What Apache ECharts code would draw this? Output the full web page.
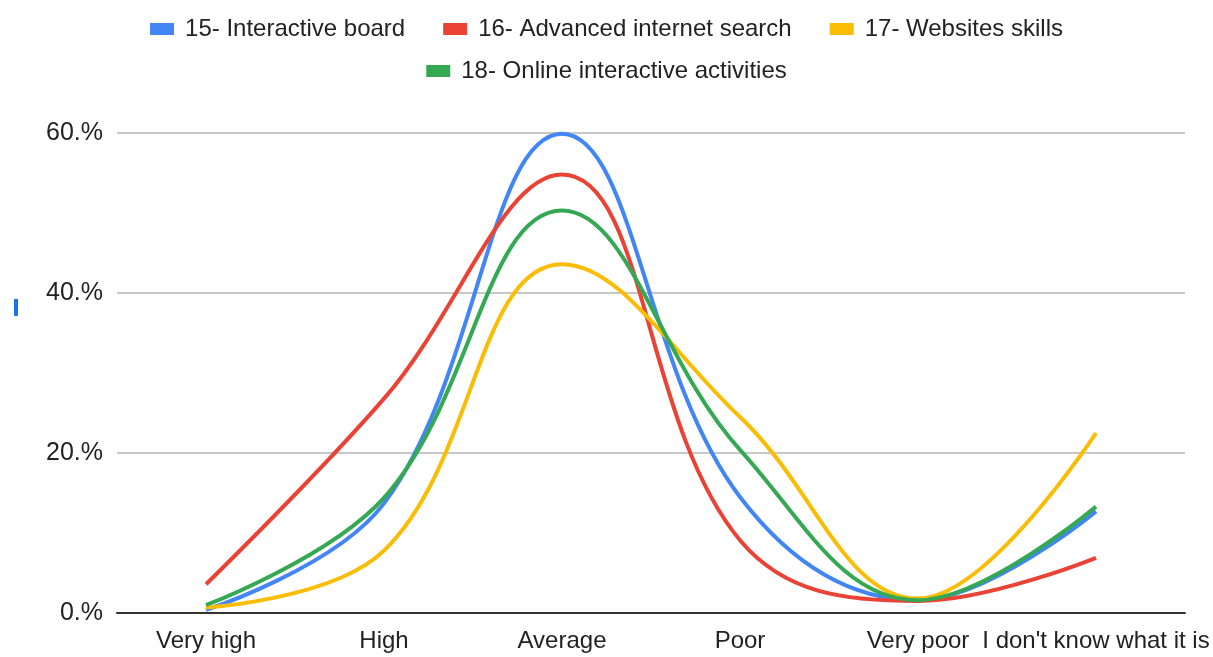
<!DOCTYPE html>
<html>
<head>
<meta charset="utf-8">
<script src="https://cdn.jsdelivr.net/npm/echarts@6/dist/echarts.min.js"></script>
<style>
  html, body { margin: 0; padding: 0; background: #fff; }
  #show { width: 1213px; height: 657px; }
</style>
</head>
<body>
<div id="show"></div>
<script>
var myChart = echarts.init(document.getElementById("show"));

var categories = ["Very high", "High", "Average", "Poor", "Very poor", "I don't know what it is"];
var seriesNames = ["15- Interactive board", "16- Advanced internet search", "17- Websites skills", "18- Online interactive activities"];
var colors = ["#4285F4", "#EA4335", "#FBBC04", "#34A853"];

var interactiveBoard = [0.4, 13.7, 59.9, 14.5, 1.6, 12.7];
var internetSearch = [3.6, 26.8, 54.8, 9.1, 1.5, 6.9];
var websitesSkills = [0.7, 7.8, 43.6, 24.5, 1.8, 22.5];
var onlineActivities = [1.0, 14.4, 50.3, 20.4, 1.6, 13.3];

var values = [interactiveBoard, internetSearch, websitesSkills, onlineActivities];

var font = "'Liberation Sans', Arial, sans-serif";

var legendText = { fontFamily: font, fontSize: 24, color: '#222', padding: [0, 0, 0, 6] };

var series = seriesNames.map(function (name, i) {
    return {
        name: name,
        type: 'line',
        data: values[i],
        smooth: 0.4,
        symbol: 'none',
        color: colors[i],
        lineStyle: { width: 4, color: colors[i] }
    };
});

myChart.setOption(option = {
    animation: false,
    legend: [
        {
            data: seriesNames.slice(0, 3),
            top: 12,
            left: 'center',
            icon: 'rect',
            itemWidth: 24,
            itemHeight: 12,
            itemGap: 38,
            textStyle: legendText
        },
        {
            data: seriesNames.slice(3),
            top: 54,
            left: 'center',
            icon: 'rect',
            itemWidth: 24,
            itemHeight: 12,
            textStyle: legendText
        }
    ],
    grid: {
        left: 117,
        right: 28,
        top: 133,
        bottom: 44,
        outerBoundsMode: 'none'
    },
    xAxis: {
        type: 'category',
        data: categories,
        boundaryGap: true,
        axisTick: { show: false },
        axisLine: { lineStyle: { color: '#333', width: 2 } },
        axisLabel: {
            interval: 0,
            margin: 16,
            fontFamily: font,
            fontSize: 24,
            color: '#222'
        }
    },
    yAxis: {
        type: 'value',
        min: 0,
        max: 60,
        interval: 20,
        axisLine: { show: false },
        axisTick: { show: false },
        splitLine: { lineStyle: { color: '#c8c8c8', width: 2 } },
        axisLabel: {
            margin: 14,
            fontFamily: font,
            fontSize: 25,
            color: '#222',
            formatter: function (v) { return v + '.%'; }
        }
    },
    graphic: [
        {
            type: 'rect',
            left: 14,
            top: 299,
            shape: { width: 4, height: 17 },
            style: { fill: '#1a73e8' }
        }
    ],
    series: series
});
</script>
</body>
</html>
